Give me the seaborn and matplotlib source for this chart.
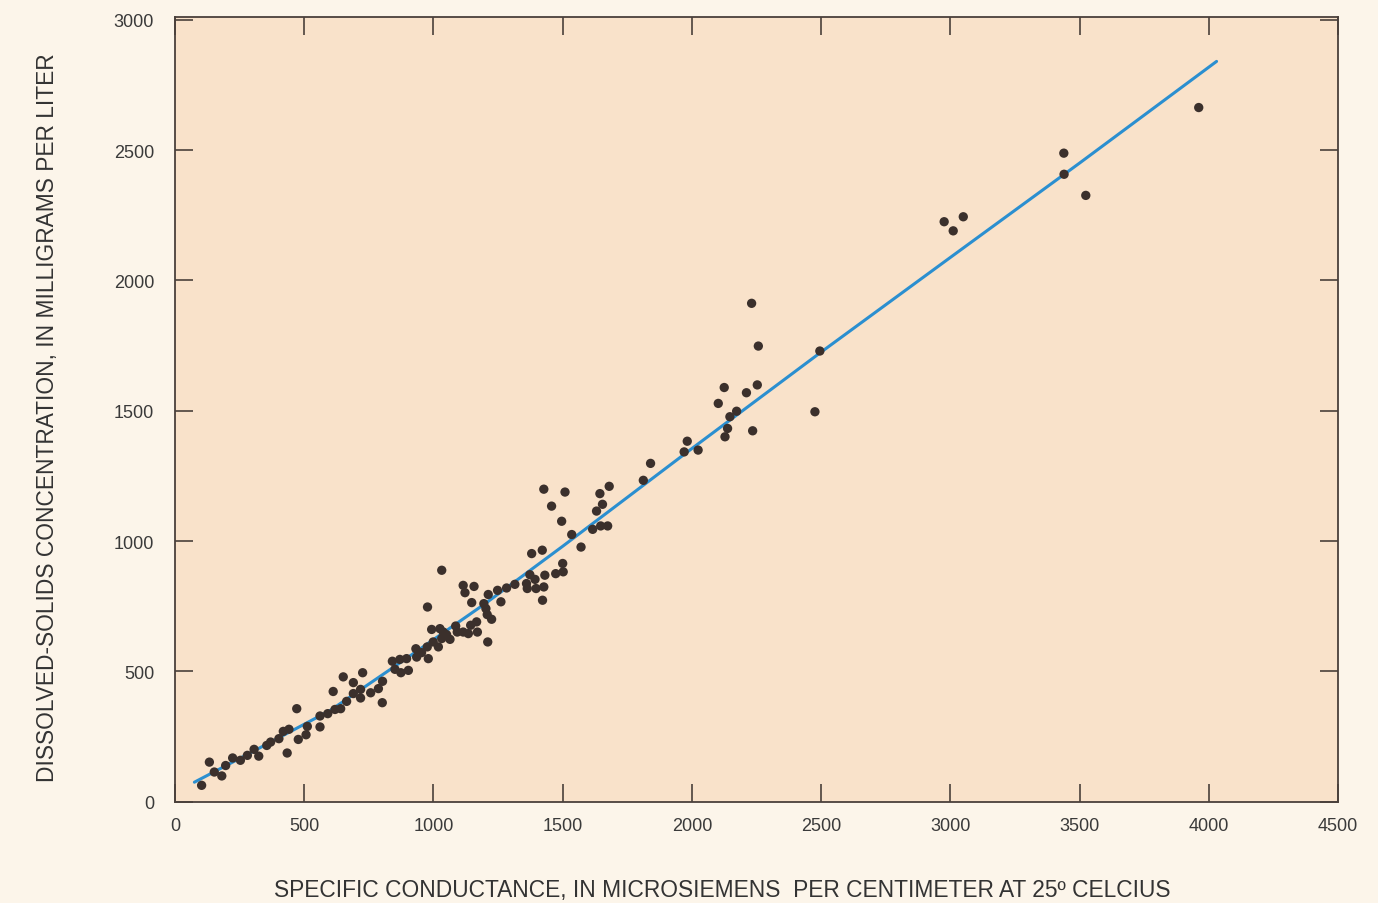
import matplotlib
matplotlib.use("Agg")
import matplotlib.pyplot as plt
import pandas as pd
import seaborn as sns

# Sample points (specific conductance vs dissolved solids)
conductance = [
    103, 133, 152, 181, 196, 223, 253, 280, 306, 324, 355, 370, 402, 419, 441,
    434, 471, 477, 507, 512, 561, 561, 591, 612, 619, 641, 651, 664,
    977, 1148, 1195, 1203, 1208, 1225, 1210, 1167, 1144, 1170, 1135, 1115, 1092,
    1086, 1064, 1051, 1038, 1025, 993, 1032, 1019, 999, 976, 954, 932, 935, 980,
    896, 870, 841, 851, 874, 903, 803, 787, 757, 726, 690, 718, 718, 690, 802,
    1380, 1421, 1571, 1500, 1502, 1473, 1431, 1373, 1393, 1360, 1363, 1397, 1427,
    1422, 1315, 1283, 1248, 1212, 1261, 1115, 1157, 1122,
    1427, 1509, 1457, 1496, 1535, 1680, 1644, 1654, 1631, 1616, 1647, 1674, 1812,
    1840, 1970, 1982, 2024, 2102, 2147, 2173, 2138, 2128, 2235,
    2231, 2257, 2495, 2476, 2253, 2211, 2125,
    2976, 3011, 3050, 3439, 3440, 3524, 3961, 1032,
]
dissolved = [
    63, 152, 114, 99, 139, 168, 159, 178, 201, 175, 216, 229, 242, 270, 278,
    187, 357, 239, 257, 289, 287, 329, 338, 423, 354, 357, 479, 385,
    747, 764, 760, 741, 718, 700, 613, 690, 677, 651, 645, 651, 651,
    674, 623, 641, 651, 664, 661, 626, 594, 613, 594, 572, 587, 555, 549,
    549, 546, 539, 508, 495, 504, 462, 434, 418, 495, 457, 431, 398, 415, 380,
    952, 965, 977, 914, 882, 875, 869, 871, 853, 837, 818, 818, 824,
    773, 834, 820, 811, 795, 767, 830, 826, 802,
    1199, 1188, 1134, 1076, 1025, 1210, 1182, 1141, 1115, 1045, 1058, 1058, 1233,
    1298, 1342, 1383, 1349, 1528, 1477, 1498, 1432, 1400, 1423,
    1912, 1748, 1729, 1496, 1599, 1569, 1589,
    2225, 2190, 2244, 2488, 2407, 2326, 2663, 888,
]

# Fitted relation
fit_x = [75, 300, 600, 900, 1200, 1500, 2000, 2500, 3000, 3500, 4030]
fit_y = [75, 192, 350, 553, 760, 980, 1355, 1725, 2088, 2450, 2840]

x_ticks = [0, 500, 1000, 1500, 2000, 2500, 3000, 3500, 4000, 4500]
y_ticks = [0, 500, 1000, 1500, 2000, 2500, 3000]

df = pd.DataFrame({'cond': conductance, 'tds': dissolved})
df_fit = pd.DataFrame({'cond': fit_x, 'tds': fit_y})

sns.set_style('ticks')
plt.rcParams['font.family'] = ['Liberation Sans', 'DejaVu Sans']

fig = plt.figure(figsize=(13.78, 9.04), dpi=100, facecolor='#fcf5ea')
ax = fig.add_axes([0.127, 0.112, 0.844, 0.868])
ax.set_facecolor('#f9e2ca')

sns.lineplot(data=df_fit, x='cond', y='tds', ax=ax, color='#2b8fd0',
             linewidth=2.2, sort=False, estimator=None, zorder=2)
sns.scatterplot(data=df, x='cond', y='tds', ax=ax, color='#3b302c',
                s=45, edgecolor='none', zorder=3)

ax.set_xlim(0, 4500)
ax.set_ylim(0, 3010)
ax.set_xticks(x_ticks)
ax.set_yticks(y_ticks)
ax.tick_params(direction='in', top=True, right=True, length=13, width=1.2,
               color='#4a403b', labelsize=13, labelcolor='#3a3a3a')
ax.tick_params(axis='x', pad=11)
ax.tick_params(axis='y', pad=15)
for s in ax.spines.values():
    s.set_color('#4a403b')
    s.set_linewidth(1.3)

ax.set_xlabel('')
ax.set_ylabel('')
fig.text(722 / 1378, 1 - 891 / 904,
         'SPECIFIC CONDUCTANCE, IN MICROSIEMENS  PER CENTIMETER AT 25º CELCIUS',
         ha='center', va='center', fontsize=16.4, color='#333333')
fig.text(48 / 1378, 1 - 418 / 904,
         'DISSOLVED-SOLIDS CONCENTRATION, IN MILLIGRAMS PER LITER',
         ha='center', va='center', rotation=90, fontsize=16.4, color='#333333')

fig.savefig('out.png', dpi=100, facecolor=fig.get_facecolor())
